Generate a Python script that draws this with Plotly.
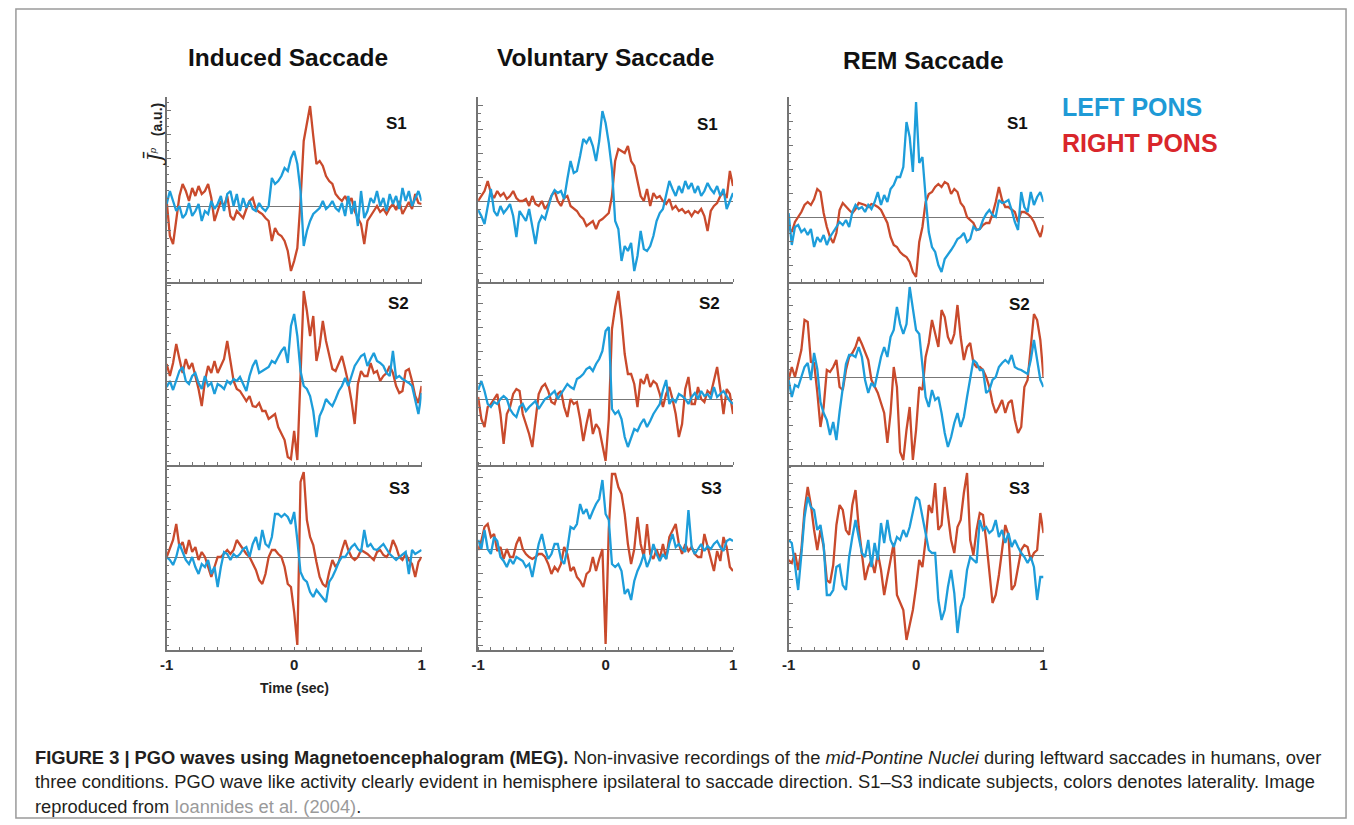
import plotly.graph_objects as go

W, H = 1354, 825

# time axis (sec), sampled every 25 ms
t = [round(-1 + 0.025 * k, 3) for k in range(81)]

# ---- Induced Saccade ----
induced_s1_left = [2,15,5,-5,0,-12,-8,3,-10,-5, 2,-15,-5,-8,5,-3,2,10,-5,12, 15,0,12,-5,8,-2,5,-3,-5,3, -2,-5,0,28,22,25,30,38,35,48, 55,42,15,-40,-25,-15,-8,-5,-2,5, -3,0,5,-2,-5,3,-10,10,-8,5, -20,15,-12,-5,8,3,15,0,8,-5, 12,2,10,-3,18,5,15,0,8,15, 5]
induced_s1_right = [5,-30,-38,-15,10,22,15,5,18,10, 20,12,15,22,8,-15,-5,5,0,10, -10,-14,-5,-8,-12,-3,5,8,-3,-6, -8,-12,-15,-35,-22,-28,-30,-35,-45,-65, -55,-42,5,65,82,100,70,42,45,40, 30,25,22,12,8,5,10,3,8,-5, -12,-18,-38,-15,-10,-5,0,-6,-3,-8, -2,2,-4,5,-8,-2,4,-3,12,3, 2]
induced_s2_left = [-6,0,-9,0,10,14,0,-3,5,8, -2,-8,5,-5,-2,-13,-3,-5,-8,0, -3,2,0,4,-3,-10,5,15,21,8, 10,12,14,20,18,24,30,34,18,55, 67,45,10,-5,-8,-15,-30,-56,-35,-28, -18,-22,-25,-18,-10,-5,3,-5,4,15, 20,25,27,15,22,28,20,18,15,8, 5,30,3,5,2,0,-2,-5,-18,-33, -12]
induced_s2_right = [17,5,18,37,22,8,22,12,18,5, -8,-25,0,15,8,20,8,15,22,40, 20,0,-8,-10,-15,-20,-15,-25,-26,-22, -30,-30,-38,-35,-33,-46,-53,-59,-76,-78, -50,-79,5,90,70,45,65,20,35,60, 40,25,12,10,18,25,12,-2,-20,-43, -3,10,5,5,18,8,10,0,5,8, 15,8,-5,-12,-10,10,12,0,-15,-22, -5]
induced_s3_left = [0,-3,-8,0,13,5,-3,-7,0,-10, -17,-7,-10,-3,-17,-10,-30,-10,5,3, -3,3,0,3,8,10,0,13,20,7, 27,13,10,20,43,43,40,43,40,33, 45,17,-15,-22,-25,-35,-40,-33,-37,-42, -45,-25,-20,-13,-5,0,0,5,10,13, 8,5,27,10,13,8,7,10,13,8, 3,0,-3,0,3,5,-17,7,3,5, 7]
induced_s3_right = [0,8,17,33,10,15,3,17,5,10, -3,5,0,-10,-20,-10,0,0,3,7, 3,7,17,12,7,3,0,-7,-13,-23, -27,-17,0,7,7,3,0,-10,-27,-30, -55,-88,75,85,37,20,12,-5,-20,-27, -30,-15,-3,-10,-5,7,17,7,0,-3, 0,7,5,3,0,-3,5,7,2,0, 5,17,10,0,-3,3,-3,-7,-20,-5, 0]

# ---- Voluntary Saccade ----
voluntary_s1_left = [-9,-15,-23,-5,12,-10,-15,-5,-12,-8, -3,-15,-36,-10,-15,-20,-8,-25,-43,-22, -15,-18,-5,5,11,8,10,2,22,40, 28,30,45,62,58,64,55,40,60,90, 78,58,32,-20,-28,-60,-45,-50,-42,-70, -55,-30,-48,-50,-45,-35,-20,-12,-8,5, 20,12,5,15,8,20,12,18,8,15, 5,10,18,12,8,15,5,12,-8,0, 8]
voluntary_s1_right = [0,5,10,20,8,3,10,5,8,2, 5,10,3,0,0,2,-5,5,-3,-5, 0,-8,-3,5,10,0,-5,3,5,-5, -8,-10,-15,-18,-25,-22,-20,-28,-20,-18, -15,-12,5,40,52,50,48,55,40,35, 20,5,0,12,-5,8,3,5,0,-3, 2,-8,-5,-10,-8,-12,-10,-15,-10,-12, -8,-15,-30,-10,-5,-2,5,8,3,30, 15]
voluntary_s2_left = [9,18,8,-5,-8,-3,-5,0,3,0, -10,-15,-18,-8,-5,-12,-8,-5,-2,-10, -5,0,2,5,8,0,5,10,15,12, 10,20,22,25,30,32,28,35,40,48, 68,72,-10,-15,-12,-20,-38,-48,-38,-30, -32,-25,-20,-28,-22,-15,-10,-5,9,19, -5,0,-3,5,3,0,-5,2,6,0, 8,3,5,0,12,2,5,8,3,-2, -5]
voluntary_s2_right = [2,-20,-28,-8,-5,0,5,-15,-45,-15, -8,5,10,8,-15,-25,-35,-48,-20,5, 12,15,8,-3,-5,5,8,-8,-18,0, -5,-3,-20,-42,-25,-10,-35,-25,-30,-45, -62,-20,70,92,108,80,45,25,25,15, -8,20,15,25,12,18,15,5,-8,5, 12,0,-15,-38,-25,10,22,-5,-5,12, 0,-3,8,5,20,32,10,-15,10,5, -15]
voluntary_s3_left = [9,0,19,0,-5,12,8,-8,-12,-18, -10,-15,-8,-10,-12,-18,-15,-28,-10,5, 15,0,-10,-5,5,5,-10,-15,0,22, 20,25,45,35,40,30,38,45,50,69, 35,29,-15,-18,-15,-22,-45,-40,-51,-32, -22,-15,-5,-18,-10,5,-5,-12,-5,-10, 5,15,2,5,0,-3,39,2,-5,0, 5,-2,3,0,5,8,2,-2,8,10, 8]
voluntary_s3_right = [-1,8,22,25,12,15,-2,2,-10,0, -8,-8,5,12,0,-5,-8,-10,-8,-5, -5,-8,-15,-25,-18,-22,-15,2,-5,-22, -18,-28,-32,-38,-25,-22,-8,-22,-10,0, -95,20,75,75,62,55,35,5,-15,0, 32,5,-8,25,-5,-10,0,-10,5,-10, 12,19,25,5,-5,5,-2,2,-5,-8, -8,15,2,-8,-22,-2,-12,12,2,-18, -22]

# ---- REM Saccade ----
rem_s1_left = [4,-28,-10,-8,-15,-12,-18,-12,-30,-20, -25,-18,-28,-20,-15,-10,-5,-8,-3,-10, 5,12,8,10,5,12,8,15,25,12, 22,15,28,32,40,40,50,95,80,45, 115,54,60,20,-15,-30,-35,-48,-55,-42, -38,-33,-28,-22,-20,-16,-25,-22,-10,-13, -12,-3,3,7,2,0,17,14,15,17, 7,-5,-13,25,10,5,25,12,20,25, 15]
rem_s1_right = [-10,-15,-5,0,5,12,15,12,18,28, 25,4,-10,-20,-26,-16,7,14,10,7, 4,8,14,13,12,10,13,12,10,7, 0,-6,-20,-28,-30,-35,-38,-40,-45,-55, -60,-25,-10,15,23,25,30,33,30,35, 33,23,28,25,14,10,0,-3,-6,-13, -12,-8,-6,-6,3,15,30,17,10,10, 7,5,-5,5,5,3,0,-5,-13,-20, -8]
rem_s2_left = [-3,-20,-8,-10,0,10,14,-3,24,8, -25,-36,-43,-58,-45,-63,-35,-13,13,22, 22,20,30,20,-3,-16,-6,-10,4,20, 30,20,40,47,70,53,43,53,90,70, 47,43,14,-20,-30,-13,-23,-20,-36,-56, -70,-60,-46,-36,-50,-40,-20,0,17,14, 7,7,-16,-13,-3,0,10,14,17,14, 22,10,8,7,5,3,17,37,17,-3, -10]
rem_s2_right = [-3,10,0,15,27,57,55,15,14,-15, -50,-30,7,5,10,17,-10,-13,7,20, 24,30,40,33,24,17,-3,-10,-16,-26, -36,-66,-36,10,-10,-75,-83,-53,-30,-83, -53,-10,-13,20,34,57,43,30,67,60, 40,33,43,72,40,17,30,34,14,10, 10,7,0,-10,-26,-36,-30,-23,-36,-26, -23,-43,-56,-50,-10,-3,30,63,57,37, 0]
rem_s3_left = [15,12,-10,-35,0,38,58,48,45,25, 30,10,-40,-40,-35,-12,-10,-30,-35,-2, 18,35,18,2,-2,15,-12,12,-5,32, 12,35,15,8,18,15,25,18,28,45, 58,55,38,22,5,2,2,-45,-65,-55, -32,-15,-38,-78,-52,-42,-15,-2,-5,-8, 35,25,28,22,25,35,18,25,12,22, 8,15,8,2,-2,-8,-2,-12,-45,-22, -22]
rem_s3_right = [-5,-8,2,-15,5,45,68,50,25,5, 25,8,-25,-28,-10,30,50,45,25,20, 50,65,28,0,-25,-12,-5,-18,2,-15, -40,-22,-5,12,-40,-48,-55,-85,-70,-55, -32,-5,-12,15,50,42,72,25,30,68, 40,15,2,28,35,62,82,15,0,25, 42,40,15,-15,-48,-40,-20,5,30,20, -35,-30,-12,5,10,8,-5,2,5,42, 22]

conditions = ["Induced Saccade", "Voluntary Saccade", "REM Saccade"]
subjects = ["S1", "S2", "S3"]
x_label_ticks = [-1, 0, 1]
x_label_text = ["-1", "0", "1"]
x_grid_ticks = [-0.5, 0, 0.5, 1]
legend_labels = ["LEFT PONS", "RIGHT PONS"]

series = {
    (0, 0): (induced_s1_left, induced_s1_right),
    (1, 0): (induced_s2_left, induced_s2_right),
    (2, 0): (induced_s3_left, induced_s3_right),
    (0, 1): (voluntary_s1_left, voluntary_s1_right),
    (1, 1): (voluntary_s2_left, voluntary_s2_right),
    (2, 1): (voluntary_s3_left, voluntary_s3_right),
    (0, 2): (rem_s1_left, rem_s1_right),
    (1, 2): (rem_s2_left, rem_s2_right),
    (2, 2): (rem_s3_left, rem_s3_right),
}

# ---- layout geometry (pixels) ----
col_px = [(161, 418), (475, 732), (788, 1045)]
row_px = [(97, 282), (282, 465), (465, 650)]
y_ranges = [
    [(-76, 109), (-81, 104), (-65, 120)],
    [(-84, 99), (-66, 117), (-88, 95)],
    [(-93, 92), (-101, 84), (-95, 90)],
]

BLUE = "#1d9dda"
RED = "#c94a2c"
AXC = "#747474"
GRID = "#8c8c8c"
FONT = "Liberation Sans, Arial, sans-serif"

def px(x):
    return x / W

def py(y):
    return 1 - y / H

fig = go.Figure()
layout = {}
idx = 0
for r in range(3):
    for c in range(3):
        idx += 1
        sfx = "" if idx == 1 else str(idx)
        gsfx = str(idx + 9)
        left, right = series[(r, c)]
        fig.add_trace(go.Scatter(x=t, y=right, mode="lines", line=dict(color=RED, width=2.3),
                                 xaxis="x" + sfx, yaxis="y" + sfx, showlegend=False, hoverinfo="skip"))
        fig.add_trace(go.Scatter(x=t, y=left, mode="lines", line=dict(color=BLUE, width=2.3),
                                 xaxis="x" + sfx, yaxis="y" + sfx, showlegend=False, hoverinfo="skip"))
        x0, x1 = col_px[c]
        y0, y1 = row_px[r]
        # main x axis: labels, bottom line, minor ticks
        layout["xaxis" + sfx] = dict(
            domain=[px(x0), px(x1)], range=[-1, 1], anchor="y" + sfx,
            tickmode="array", tickvals=x_label_ticks,
            ticktext=["<b>%s</b>" % s for s in x_label_text],
            showticklabels=(r == 2), ticks="", showgrid=False,
            zeroline=False, showline=True, linecolor=AXC, linewidth=1.5,
            tickfont=dict(family=FONT, size=15, color="#222"),
            minor=dict(tickmode="linear", tick0=-1, dtick=0.1, ticks="inside", ticklen=3,
                       tickcolor=AXC, showgrid=False),
            fixedrange=True,
        )
        # overlay x axis: vertical grid lines only
        layout["xaxis" + gsfx] = dict(
            domain=[px(x0), px(x1)], range=[-1, 1], anchor="y" + sfx, overlaying="x" + sfx,
            tickmode="array", tickvals=x_grid_ticks, showticklabels=False, ticks="",
            showgrid=True, gridcolor=GRID, gridwidth=1, zeroline=False, showline=False,
            fixedrange=True,
        )
        layout["yaxis" + sfx] = dict(
            domain=[py(y1), py(y0)], range=list(y_ranges[r][c]), anchor="x" + sfx,
            showgrid=False, zeroline=True, zerolinecolor="#777", zerolinewidth=1,
            showline=True, linecolor=AXC, linewidth=1.5, mirror=False,
            ticks="inside", ticklen=5, tickcolor=AXC, tickmode="linear", tick0=0, dtick=24,
            showticklabels=False,
            minor=dict(tickmode="linear", tick0=0, dtick=8, ticks="inside", ticklen=3, tickcolor=AXC),
            fixedrange=True,
        )

annotations = []
# column titles
title_pos = [(283, 57), (603, 57), (924, 60)]
for (x, y), txt in zip(title_pos, conditions):
    annotations.append(dict(x=px(x), y=py(y), xref="paper", yref="paper", text="<b>%s</b>" % txt,
                            showarrow=False, font=dict(family=FONT, size=24.5, color="#111"),
                            xanchor="center", yanchor="middle"))
# subject labels
s_pos = [[(393, 124), (706, 125), (1019, 124)],
         [(395, 304), (708, 304), (1021, 305)],
         [(396, 488), (710, 488), (1021, 488)]]
for r in range(3):
    for c in range(3):
        x, y = s_pos[r][c]
        annotations.append(dict(x=px(x), y=py(y), xref="paper", yref="paper", text="<b>%s</b>" % subjects[r],
                                showarrow=False, font=dict(family=FONT, size=17, color="#111"),
                                xanchor="center", yanchor="middle"))
# legend text
annotations.append(dict(x=px(1062), y=py(107), xref="paper", yref="paper", text="<b>%s</b>" % legend_labels[0],
                        showarrow=False, font=dict(family=FONT, size=25, color="#1e9ad6"),
                        xanchor="left", yanchor="middle"))
annotations.append(dict(x=px(1062), y=py(143), xref="paper", yref="paper", text="<b>%s</b>" % legend_labels[1],
                        showarrow=False, font=dict(family=FONT, size=25, color="#d9262b"),
                        xanchor="left", yanchor="middle"))
# y axis label
annotations.append(dict(x=px(149), y=py(134), xref="paper", yref="paper",
                        text="<span style='font-family:DejaVu Serif;font-size:21px'><i>J\u0304</i></span><sup><i>p</i></sup>   <b>(a.u.)</b>",
                        textangle=-90, showarrow=False, font=dict(family=FONT, size=14, color="#222"),
                        xanchor="center", yanchor="middle"))
# x axis title
annotations.append(dict(x=px(290), y=py(688), xref="paper", yref="paper", text="<b>Time (sec)</b>",
                        showarrow=False, font=dict(family=FONT, size=14, color="#222"),
                        xanchor="center", yanchor="middle"))
# caption
cap_lines = [
    "<b>FIGURE 3 | PGO waves using Magnetoencephalogram (MEG).</b> Non-invasive recordings of the <i>mid-Pontine Nuclei</i> during leftward saccades in humans, over",
    "three conditions. PGO wave like activity clearly evident in hemisphere ipsilateral to saccade direction. S1\u2013S3 indicate subjects, colors denotes laterality. Image",
    "reproduced from <span style='color:#9a9a9a'>Ioannides et al. (2004)</span>.",
]
for i, line in enumerate(cap_lines):
    annotations.append(dict(x=px(26), y=py(757 + 24.5 * i), xref="paper", yref="paper", text=line,
                            showarrow=False, font=dict(family=FONT, size=18.3, color="#231f20"),
                            xanchor="left", yanchor="middle"))

shapes = [dict(type="rect", xref="paper", yref="paper", x0=px(9), x1=px(1350), y0=py(818), y1=py(9),
               line=dict(color="#9a9a9a", width=1.5), fillcolor="rgba(0,0,0,0)", layer="below")]

fig.update_layout(width=W, height=H, autosize=False, margin=dict(l=0, r=0, t=0, b=0),
                  paper_bgcolor="white", plot_bgcolor="white", annotations=annotations, shapes=shapes,
                  **layout)
fig.write_html("out.html", config={"displayModeBar": False},
               post_script="document.body.style.margin='0px';document.body.style.overflow='hidden';")
